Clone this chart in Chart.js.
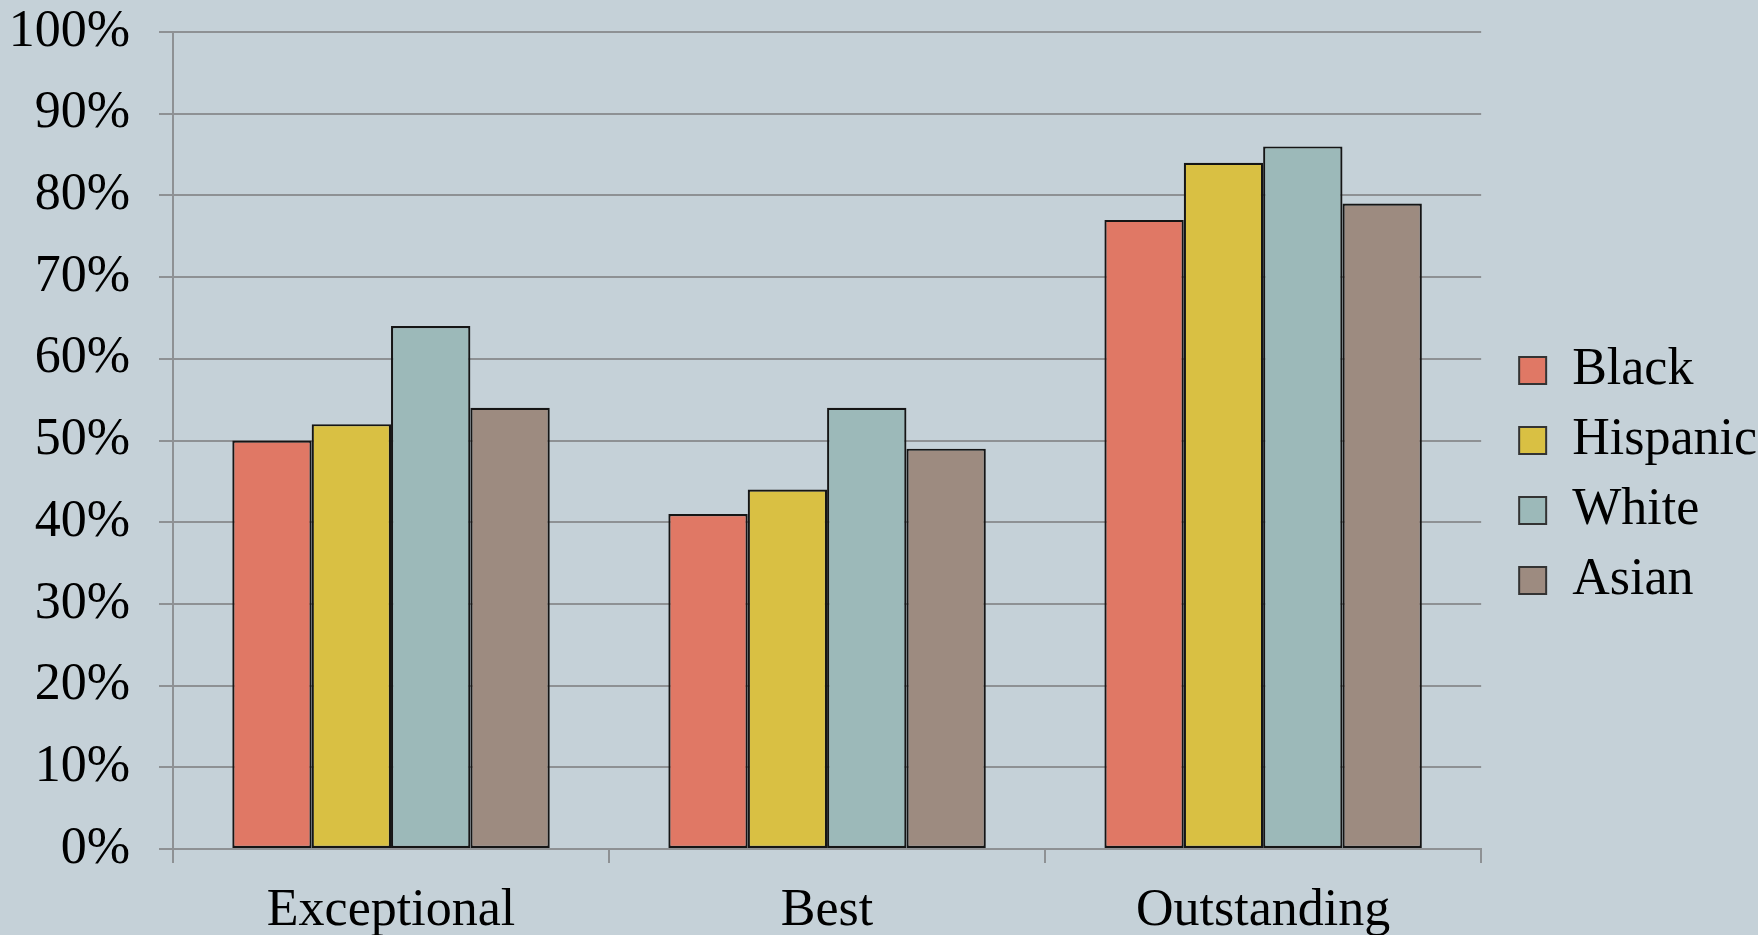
<!DOCTYPE html>
<html>
<head>
<meta charset="utf-8">
<script src="https://cdn.jsdelivr.net/npm/chart.js@4"></script>
<style>
  html, body { margin: 0; padding: 0; background: #C5D1D8; overflow: hidden; }
  canvas { display: block; background: #C5D1D8; }
</style>
</head>
<body>
<canvas id="c" width="1758" height="935"></canvas>
<script>
const categories = ['Exceptional', 'Best', 'Outstanding'];
const seriesNames = ['Black', 'Hispanic', 'White', 'Asian'];
const blackValues = [50, 41, 77];
const hispanicValues = [52, 44, 84];
const whiteValues = [64, 54, 86];
const asianValues = [54, 49, 79];
const yTickValues = [0, 10, 20, 30, 40, 50, 60, 70, 80, 90, 100];

const colors = ['#E07865', '#D9C043', '#9CB9B9', '#9D8B80'];
const seriesValues = [blackValues, hispanicValues, whiteValues, asianValues];
const FONT = '"Liberation Serif", "Times New Roman", serif';
const FS = 52;

const legendShift = {
  id: 'legendShift',
  afterInit(chart) {
    const lg = chart.legend;
    if (!lg) return;
    const EXTRA_W = 11, DX = 20, DY = 8;
    const fit = lg.fit;
    lg.fit = function () { fit.call(this); this.width += EXTRA_W; };
    const draw = lg.draw;
    lg.draw = function () {
      const c = this.ctx; c.save(); c.translate(DX, DY); draw.call(this); c.restore();
    };
  }
};

new Chart(document.getElementById('c'), {
  type: 'bar',
  data: {
    labels: categories,
    datasets: seriesNames.map((name, i) => ({
      label: name,
      data: seriesValues[i],
      backgroundColor: colors[i],
      borderColor: '#151515',
      borderWidth: 2.2,
      borderSkipped: false,
      categoryPercentage: 0.728,
      barPercentage: 1.0
    }))
  },
  options: {
    responsive: false,
    devicePixelRatio: 1,
    animation: false,
    layout: { padding: { top: 0, right: 0, bottom: 0, left: 0 } },
    plugins: {
      tooltip: { enabled: false },
      legend: {
        position: 'right',
        labels: {
          font: { family: FONT, size: FS },
          color: '#000',
          boxWidth: 27,
          boxHeight: 27,
          padding: 18,
          generateLabels(chart) {
            return chart.data.datasets.map((ds, i) => ({
              text: ds.label,
              fillStyle: ds.backgroundColor,
              strokeStyle: '#333',
              lineWidth: 2,
              datasetIndex: i,
              fontColor: '#000'
            }));
          }
        }
      }
    },
    scales: {
      x: {
        afterFit(axis) {
          axis.height = 86;
          axis.paddingLeft = 0;
          axis.paddingRight = 0;
        },
        grid: {
          display: true,
          drawOnChartArea: false,
          drawTicks: true,
          tickLength: 14,
          color: '#8E9194',
          lineWidth: 2
        },
        border: { display: true, color: '#8E9194', width: 2 },
        ticks: {
          font: { family: FONT, size: FS },
          color: '#000',
          padding: 17
        }
      },
      y: {
        min: 0,
        max: 100,
        afterBuildTicks(axis) { axis.ticks = yTickValues.map(v => ({ value: v })); },
        afterFit(axis) {
          axis.width = 173;
          axis.paddingTop = 32;
          axis.paddingBottom = 0;
        },
        grid: {
          color: '#8E9194',
          lineWidth: 2,
          tickLength: 14,
          drawTicks: true
        },
        border: { display: true, color: '#8E9194', width: 2 },
        ticks: {
          font: { family: FONT, size: FS },
          color: '#000',
          padding: 29,
          callback: v => v + '%'
        }
      }
    }
  },
  plugins: [legendShift]
});
</script>
</body>
</html>
